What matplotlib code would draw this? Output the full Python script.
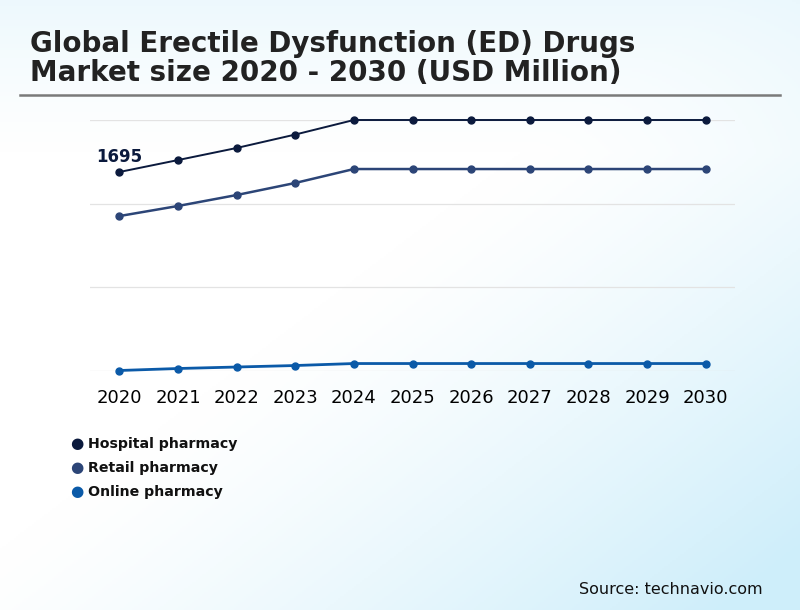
import numpy as np
import matplotlib.pyplot as plt

years = [2020, 2021, 2022, 2023, 2024, 2025, 2026, 2027, 2028, 2029, 2030]
hospital = [1695, 1791, 1888, 1996, 2113, 2113, 2113, 2113, 2113, 2113, 2113]
retail = [1341, 1422, 1510, 1607, 1719, 1719, 1719, 1719, 1719, 1719, 1719]
online = [100, 116, 128, 140, 156, 156, 156, 156, 156, 156, 156]
names = ["Hospital pharmacy", "Retail pharmacy", "Online pharmacy"]
colors = ["#0b1a3d", "#2c4577", "#0b5aa8"]

fig = plt.figure(figsize=(8, 6.1), dpi=100)

# background gradient, white -> light blue toward bottom right
bg = fig.add_axes([0, 0, 1, 1], zorder=-10)
gx, gy = np.meshgrid(np.linspace(0, 1, 400), np.linspace(0, 1, 305))
w = np.clip((gx + gy) - 0.9, 0, 1) ** 1.3 * 0.95
w = w + 0.35 * np.clip(1 - gy / 0.25, 0, 1) * (1 - gy)
w = np.clip(w, 0, 1)
blue = np.array([0.80, 0.93, 0.98])
img = (1 - w[..., None]) + w[..., None] * blue
bg.imshow(img, extent=[0, 1, 0, 1], aspect="auto", origin="upper")
bg.axis("off")

fig.text(30/800, 1 - 52/610, "Global Erectile Dysfunction (ED) Drugs",
         fontsize=20, fontweight="bold", color="#222222")
fig.text(30/800, 1 - 81/610, "Market size 2020 - 2030 (USD Million)",
         fontsize=20, fontweight="bold", color="#222222")
fig.add_artist(plt.Line2D([20/800, 780/800], [1 - 95/610, 1 - 95/610],
                          color="#7a7a7a", lw=1.8))

ax = fig.add_axes([90/800, 1 - 370.5/610, 645/800, 250.5/610])
ax.patch.set_alpha(0)
series = [hospital, retail, online]
for vals, c, lw in zip(series, colors, [1.4, 1.8, 2.0]):
    ax.plot(years, vals, color=c, lw=lw, marker="o", ms=5, clip_on=False, zorder=3)

lo, hi = min(online), max(hospital)
ax.set_ylim(lo, hi)
ax.set_xlim(2019.5, 2030.5)
ax.set_yticks(np.linspace(lo, hi, 4))
ax.set_yticklabels([])
ax.grid(axis="y", color="#e3e3e3", lw=0.9)
ax.set_xticks(years)
ax.tick_params(axis="x", length=0, labelsize=13, pad=13, labelcolor="black")
ax.tick_params(axis="y", length=0)
for s in ax.spines.values():
    s.set_visible(False)

ax.annotate(str(hospital[0]), (years[0], hospital[0]), xytext=(0, 4),
            textcoords="offset points", ha="center", va="bottom",
            fontsize=12, fontweight="bold", color=colors[0])

for i, (n, c) in enumerate(zip(names, colors)):
    y = 1 - (444 + 24 * i) / 610
    fig.text(77/800, y, "\u25cf", color=c, fontsize=11, ha="center", va="center")
    fig.text(88/800, y, n, fontsize=10.2, fontweight="bold", color="#111111", va="center")

fig.text(763/800, 1 - 589/610, "Source: technavio.com", fontsize=11.5,
         ha="right", va="center", color="#111111")

fig.savefig("out.png", dpi=100)
